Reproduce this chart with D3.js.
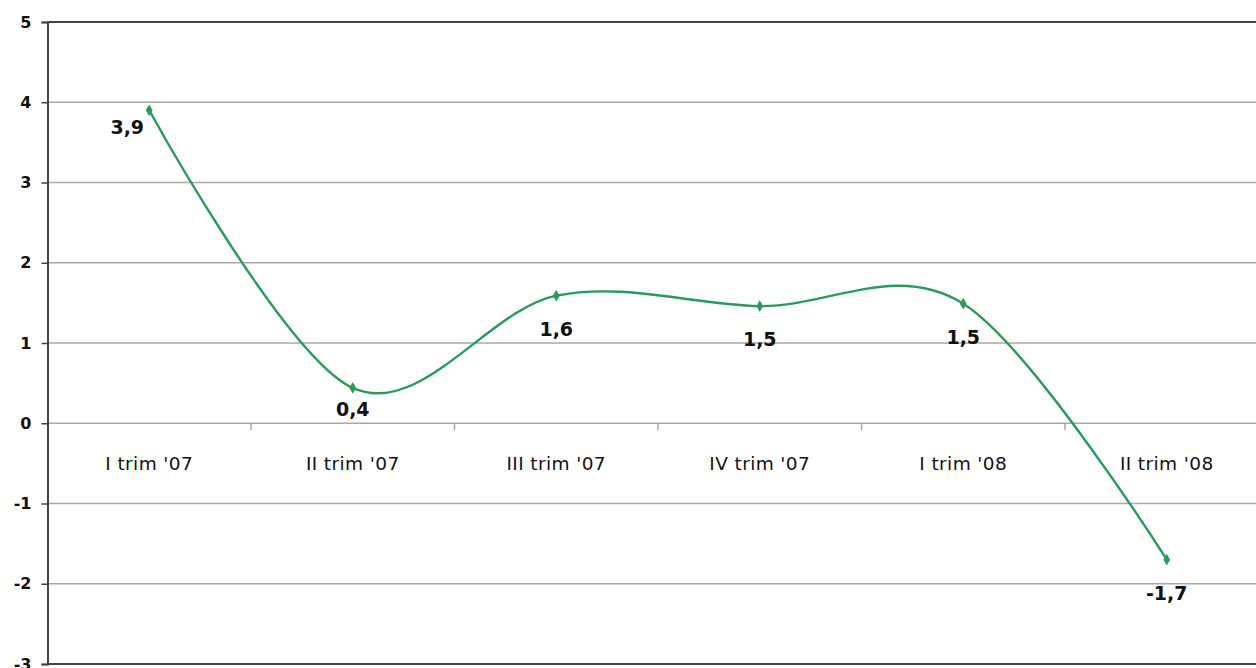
<!DOCTYPE html>
<html>
<head>
<meta charset="utf-8">
<script src="https://d3js.org/d3.v7.min.js"></script>
<style>
body { margin: 0; background: #fff; }
</style>
</head>
<body>
<script>

var categories = ["I trim '07", "II trim '07", "III trim '07", "IV trim '07", "I trim '08", "II trim '08"];
var values = [3.9, 0.44, 1.59, 1.46, 1.49, -1.7];
var yTicks = [-3, -2, -1, 0, 1, 2, 3, 4, 5];

var w = 1256, h = 668;
var padLeft = 47.5, padTop = 22, padBottom = 664;
var bandW = 203.5;

var svg = d3.select("body").append("svg")
    .attr("width", w)
    .attr("height", h)
    .style("display", "block");

var x = d3.scaleBand()
    .domain(categories)
    .range([padLeft, padLeft + bandW * categories.length]);

var y = d3.scaleLinear()
    .domain([-3, 5])
    .range([padBottom, padTop]);

// gridlines
svg.selectAll("line.grid")
   .data(yTicks)
   .enter()
   .append("line")
   .attr("x1", padLeft)
   .attr("x2", w)
   .attr("y1", function(d) { return y(d); })
   .attr("y2", function(d) { return y(d); })
   .attr("stroke", function(d) { return (d == 5 || d == -3) ? "#444" : "#a8a8a8"; })
   .attr("stroke-width", function(d) { return (d == 5 || d == -3) ? 2 : 1.5; });

// y axis
var yAxis = svg.append("g")
    .attr("transform", "translate(" + padLeft + ",0)")
    .call(d3.axisLeft(y).tickValues(yTicks).tickSize(6).tickPadding(10)
          .tickFormat(function(d) { return String(d); }));
yAxis.select(".domain").attr("stroke", "#444").attr("stroke-width", 2);
yAxis.selectAll(".tick line").attr("stroke", "#444").attr("stroke-width", 1.5);
yAxis.selectAll("text")
    .attr("font-family", "DejaVu Sans")
    .attr("font-weight", "bold")
    .attr("font-size", 16)
    .attr("fill", "#111");

// category ticks on the zero line
svg.selectAll("line.ctick")
   .data(categories.slice(1))
   .enter()
   .append("line")
   .attr("x1", function(d) { return x(d); })
   .attr("x2", function(d) { return x(d); })
   .attr("y1", y(0))
   .attr("y2", y(0) + 7)
   .attr("stroke", "#a8a8a8")
   .attr("stroke-width", 1.5);

// category labels
svg.selectAll("text.cat")
   .data(categories)
   .enter()
   .append("text")
   .attr("x", function(d) { return x(d) + x.bandwidth() / 2; })
   .attr("y", y(0) + 47)
   .attr("text-anchor", "middle")
   .attr("font-family", "DejaVu Sans")
   .attr("font-size", 18.5)
   .attr("letter-spacing", 0.4)
   .attr("fill", "#111")
   .text(function(d) { return d; });

var data = categories.map(function(c, i) { return [c, values[i]]; });

var line = d3.line()
    .x(function(d) { return x(d[0]) + x.bandwidth() / 2; })
    .y(function(d) { return y(d[1]); })
    .curve(d3.curveCardinal.tension(0));

svg.append("path")
   .datum(data)
   .attr("d", line)
   .attr("fill", "none")
   .attr("stroke", "#2a9a5c")
   .attr("stroke-width", 2.4);

svg.selectAll("path.marker")
   .data(data)
   .enter()
   .append("path")
   .attr("d", d3.symbol().type(d3.symbolDiamond).size(40))
   .attr("transform", function(d) {
        return "translate(" + (x(d[0]) + x.bandwidth() / 2) + "," + y(d[1]) + ")";
   })
   .attr("fill", "#2a9a5c");

// label placement: first to the lower left, second lifted off the axis
function labelDx(i) { return i == 0 ? -22 : 0; }
function labelDy(i) { return i == 0 ? 24 : (i == 1 ? 28 : 40); }

var fmt = d3.format(".1f");
svg.selectAll("text.lbl")
   .data(data)
   .enter()
   .append("text")
   .attr("x", function(d, i) { return x(d[0]) + x.bandwidth() / 2 + labelDx(i); })
   .attr("y", function(d, i) { return y(d[1]) + labelDy(i); })
   .attr("text-anchor", "middle")
   .attr("font-family", "DejaVu Sans")
   .attr("font-weight", "bold")
   .attr("font-size", 19)
   .attr("fill", "#111")
   .text(function(d) { return fmt(d[1]).replace(".", ",").replace("\u2212", "-"); });

</script>
</body>
</html>
